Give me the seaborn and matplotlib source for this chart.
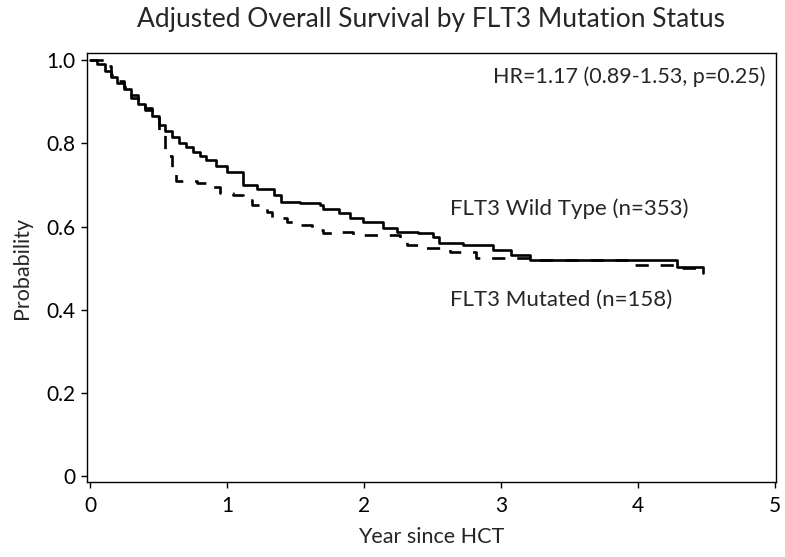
import pandas as pd
import seaborn as sns
import matplotlib.pyplot as plt

# Kaplan-Meier style step values
wt_years = [0, 0.05, 0.11, 0.15, 0.2, 0.25, 0.3, 0.35, 0.4, 0.45, 0.5, 0.55, 0.6, 0.65,
            0.7, 0.75, 0.8, 0.85, 0.92, 1.0, 1.12, 1.22, 1.34, 1.39, 1.53, 1.68, 1.7,
            1.82, 1.9, 1.99, 2.14, 2.24, 2.39, 2.5, 2.55, 2.72, 2.94, 3.07, 3.21, 4.28, 4.47]
wt_prob = [1.0, 0.99, 0.975, 0.96, 0.945, 0.93, 0.91, 0.895, 0.88, 0.865, 0.845, 0.83, 0.815,
           0.80, 0.79, 0.78, 0.77, 0.76, 0.745, 0.73, 0.70, 0.69, 0.675, 0.66, 0.656, 0.651,
           0.642, 0.632, 0.62, 0.61, 0.596, 0.587, 0.584, 0.575, 0.56, 0.555, 0.543, 0.531,
           0.519, 0.502, 0.488]

mut_years = [0, 0.1, 0.15, 0.2, 0.25, 0.3, 0.35, 0.4, 0.45, 0.5, 0.55, 0.6, 0.63, 0.78,
             0.85, 0.95, 1.04, 1.12, 1.18, 1.29, 1.33, 1.44, 1.53, 1.62, 1.70, 1.82, 1.92,
             2.04, 2.26, 2.31, 2.42, 2.63, 2.82, 3.21, 3.95, 4.28, 4.47]
mut_prob = [1.0, 0.985, 0.965, 0.95, 0.935, 0.915, 0.90, 0.885, 0.86, 0.82, 0.77, 0.73, 0.71,
            0.704, 0.695, 0.68, 0.675, 0.663, 0.651, 0.635, 0.62, 0.61, 0.603, 0.591, 0.584,
            0.587, 0.579, 0.579, 0.572, 0.555, 0.548, 0.538, 0.524, 0.519, 0.507, 0.50, 0.49]

groups = ['FLT3 Wild Type (n=353)', 'FLT3 Mutated (n=158)']

df = pd.concat([
    pd.DataFrame({'year': wt_years, 'prob': wt_prob, 'group': groups[0]}),
    pd.DataFrame({'year': mut_years, 'prob': mut_prob, 'group': groups[1]}),
])

sns.set_style('ticks')
plt.rcParams['font.family'] = ['Lato', 'DejaVu Sans']

fig = plt.figure(figsize=(7.85, 5.57), dpi=100)
ax = fig.add_axes([0.1108, 0.1346, 0.8777, 0.7702])

sns.lineplot(data=df, x='year', y='prob', style='group', style_order=groups,
             dashes={groups[0]: '', groups[1]: (5, 4.5)}, color='black',
             linewidth=1.9, drawstyle='steps-post', legend=False, ax=ax,
             estimator=None, sort=True)

ax.set_xlim(-0.022, 5.005)
ax.set_ylim(-0.014, 1.017)
ax.set_xticks([0, 1, 2, 3, 4, 5])
ax.set_xticklabels(['0', '1', '2', '3', '4', '5'])
ax.set_yticks([0, 0.2, 0.4, 0.6, 0.8, 1.0])
ax.set_yticklabels(['0', '0.2', '0.4', '0.6', '0.8', '1.0'])
ax.tick_params(direction='out', length=4, width=1, labelsize=15, colors='black')
ax.tick_params(axis='x', pad=6)
ax.tick_params(axis='y', pad=4)
for s in ax.spines.values():
    s.set_linewidth(1)
    s.set_color('black')

ax.set_xlabel('Year since HCT', fontsize=15.5)
ax.set_ylabel('Probability', fontsize=15.5)
ax.xaxis.set_label_coords(0.5, -0.128)
ax.xaxis.label.set_va('center')
ax.yaxis.set_label_coords(-0.094, 0.5)
ax.yaxis.label.set_va('center')

# title is centred over the plot area, not the whole figure
ax.set_title('Adjusted Overall Survival by FLT3 Mutation Status', fontsize=19, pad=19)

ax.text(4.93, 0.959, 'HR=1.17 (0.89-1.53, p=0.25)', ha='right', va='center', fontsize=15.5)
ax.text(2.63, 0.644, groups[0], ha='left', va='center', fontsize=16)
ax.text(2.63, 0.423, groups[1], ha='left', va='center', fontsize=16)

fig.savefig('out.png', dpi=100)
